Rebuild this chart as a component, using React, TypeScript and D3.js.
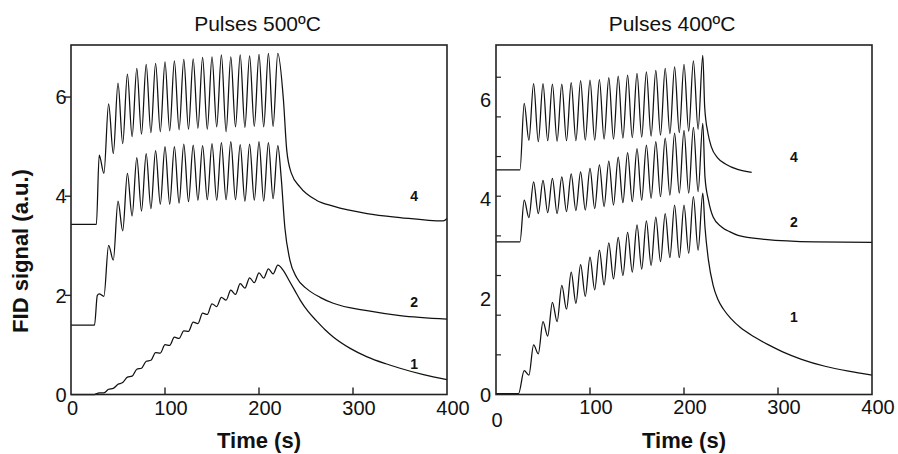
import React from "react";
import * as d3 from "d3";

// ---------- data ----------
const peakTimes = [30, 40, 50, 60, 70, 80, 90, 100, 110, 120, 130, 140, 150, 160, 170, 180, 190, 200, 210, 220];
const troughTimes = [35, 45, 55, 65, 75, 85, 95, 105, 115, 125, 135, 145, 155, 165, 175, 185, 195, 205, 215];

// Pulses 500ºC
const l4Lead = [[0, 3.43], [27, 3.43]];
const l4Peaks = [4.83, 5.86, 6.28, 6.46, 6.58, 6.66, 6.68, 6.71, 6.73, 6.76, 6.77, 6.8, 6.81, 6.85, 6.81, 6.85, 6.83, 6.86, 6.88, 6.88];
const l4Troughs = [4.46, 4.86, 5.06, 5.2, 5.25, 5.28, 5.3, 5.32, 5.34, 5.35, 5.37, 5.35, 5.4, 5.3, 5.4, 5.39, 5.41, 5.4, 5.41];
const l4Tail = [[226, 5.94], [229.5, 4.93], [234.5, 4.46], [243.5, 4.19], [261, 3.92], [279, 3.8], [315, 3.65], [350, 3.57], [396, 3.5], [400, 3.55]];

const l2Lead = [[0, 1.4], [25, 1.4], [28, 2.0]];
const l2Peaks = [2.03, 3.01, 3.9, 4.46, 4.78, 4.86, 4.92, 5.0, 5.0, 5.05, 5.03, 5.02, 5.06, 5.08, 5.1, 5.04, 5.05, 5.1, 5.08, 5.02];
const l2Troughs = [1.98, 2.71, 3.3, 3.6, 3.7, 3.75, 3.84, 3.84, 3.86, 3.89, 3.92, 3.93, 3.92, 3.93, 3.93, 3.9, 3.92, 3.9, 3.95];
const l2Tail = [[223.5, 4.4], [227.5, 3.37], [233, 2.7], [240, 2.36], [251, 2.13], [265, 1.96], [279, 1.84], [315, 1.69], [350, 1.59], [400, 1.52]];

const l1Lead = [[0, 0], [25, 0]];
const l1Peaks = [0.035, 0.105, 0.205, 0.35, 0.51, 0.67, 0.845, 1.005, 1.155, 1.285, 1.46, 1.64, 1.83, 1.96, 2.105, 2.235, 2.355, 2.455, 2.535, 2.61];
const l1Troughs = [0.035, 0.125, 0.24, 0.37, 0.53, 0.69, 0.835, 0.99, 1.13, 1.275, 1.43, 1.615, 1.775, 1.905, 2.02, 2.145, 2.255, 2.345, 2.435];
const l1Tail = [[226, 2.5], [232, 2.3], [238, 2.1], [244, 1.9], [252, 1.68], [261, 1.49], [270, 1.31], [279, 1.16], [297, 0.93], [315, 0.76], [335, 0.62], [350, 0.53], [375, 0.4], [400, 0.3]];

// Pulses 400ºC
const r4Lead = [[0, 4.53], [25.5, 4.53]];
const r4Peaks = [5.87, 6.27, 6.27, 6.26, 6.26, 6.29, 6.33, 6.34, 6.35, 6.39, 6.42, 6.44, 6.48, 6.51, 6.54, 6.58, 6.61, 6.66, 6.73, 6.84];
const r4Troughs = [5.13, 5.1, 5.12, 5.11, 5.12, 5.12, 5.13, 5.13, 5.15, 5.15, 5.17, 5.18, 5.19, 5.21, 5.23, 5.26, 5.28, 5.31, 5.35];
const r4Tail = [[222, 5.8], [225.5, 5.27], [229, 5.0], [236, 4.77], [245, 4.64], [257, 4.54], [272, 4.48]];

const r2Lead = [[0, 3.08], [25.5, 3.08]];
const r2Peaks = [3.92, 4.29, 4.32, 4.36, 4.39, 4.45, 4.49, 4.56, 4.63, 4.71, 4.79, 4.88, 4.96, 5.03, 5.1, 5.17, 5.27, 5.33, 5.39, 5.47];
const r2Troughs = [3.57, 3.65, 3.67, 3.65, 3.69, 3.71, 3.72, 3.75, 3.79, 3.82, 3.87, 3.89, 3.92, 3.96, 3.99, 4.02, 4.06, 4.06, 4.09];
const r2Tail = [[222.3, 4.39], [226, 3.92], [231, 3.58], [240, 3.38], [249, 3.28], [257.5, 3.21], [286, 3.13], [339, 3.08], [400, 3.07]];

const r1Lead = [[0, 0.02], [24, 0.02]];
const r1Peaks = [0.48, 1.0, 1.47, 1.86, 2.2, 2.47, 2.62, 2.77, 2.91, 3.06, 3.17, 3.27, 3.42, 3.5, 3.58, 3.65, 3.82, 3.82, 3.99, 4.06];
const r1Troughs = [0.39, 0.82, 1.18, 1.47, 1.72, 1.84, 1.98, 2.11, 2.21, 2.33, 2.4, 2.47, 2.53, 2.6, 2.68, 2.76, 2.76, 2.85, 2.91];
const r1Tail = [[222.3, 3.38], [226, 2.71], [231, 2.2], [236, 1.92], [242, 1.72], [250, 1.53], [260, 1.35], [275, 1.16], [290, 1.0], [305, 0.86], [325, 0.71], [350, 0.57], [375, 0.47], [400, 0.39]];

const xTicks = [0, 100, 200, 300, 400];
const yLabels = [0, 2, 4, 6];
const rightMinorTicks = [0.8, 1.6, 2.4, 3.2, 4.0, 4.8, 5.6, 6.4];
const titles = ["Pulses 500ºC", "Pulses 400ºC"];
const curveLabels = ["4", "2", "1"];

// ---------- helpers ----------
function buildSeries(lead: number[][], peaks: number[], troughs: number[], tail: number[][]) {
  const pts: number[][] = [...lead];
  peaks.forEach((p, i) => {
    pts.push([peakTimes[i], p]);
    if (i < troughs.length) pts.push([troughTimes[i], troughs[i]]);
  });
  return pts.concat(tail);
}

const leftSeries = [
  buildSeries(l4Lead, l4Peaks, l4Troughs, l4Tail),
  buildSeries(l2Lead, l2Peaks, l2Troughs, l2Tail),
  buildSeries(l1Lead, l1Peaks, l1Troughs, l1Tail),
];
const rightSeries = [
  buildSeries(r4Lead, r4Peaks, r4Troughs, r4Tail),
  buildSeries(r2Lead, r2Peaks, r2Troughs, r2Tail),
  buildSeries(r1Lead, r1Peaks, r1Troughs, r1Tail),
];

const FONT = "'Liberation Sans', Arial, Helvetica, sans-serif";
const TOP = 45;
const BOTTOM = 394.5;

const y = d3.scaleLinear().domain([0, 7.05]).range([BOTTOM, TOP]);
const xL = d3.scaleLinear().domain([0, 400]).range([71, 447]);
const xR = d3.scaleLinear().domain([0, 400]).range([496, 872]);

export default function App() {
  const lineL = d3.line<number[]>().x((d) => xL(d[0])).y((d) => y(d[1])).curve(d3.curveMonotoneX);
  const lineR = d3.line<number[]>().x((d) => xR(d[0])).y((d) => y(d[1])).curve(d3.curveMonotoneX);

  const leftLabelPos = [4.0, 1.86, 0.61];
  const rightLabelPos = [4.8, 3.48, 1.57];

  return (
    <svg
      width={898}
      height={454}
      style={{ position: "absolute", left: 0, top: 0, background: "#fff" }}
      fontFamily={FONT}
    >
      <rect x={0} y={0} width={898} height={454} fill="#fff" />

      {/* Titles */}
      <text x={257.5} y={31} fontSize={21} textAnchor="middle" fill="#111">{titles[0]}</text>
      <text x={672} y={31} fontSize={21} textAnchor="middle" fill="#111">{titles[1]}</text>

      {/* Left panel */}
      <g>
        {leftSeries.map((s, i) => (
          <path key={i} d={lineL(s) || ""} fill="none" stroke="#111" strokeWidth={1.25} />
        ))}
        <rect x={xL(0)} y={TOP} width={xL(400) - xL(0)} height={BOTTOM - TOP} fill="none" stroke="#222" strokeWidth={1.6} />
        {xTicks.slice(1, 4).map((t) => (
          <line key={t} x1={xL(t)} x2={xL(t)} y1={BOTTOM} y2={BOTTOM - 7} stroke="#222" strokeWidth={1.4} />
        ))}
        {yLabels.slice(1).map((v) => (
          <line key={v} x1={xL(0) - 6} x2={xL(0)} y1={y(v)} y2={y(v)} stroke="#222" strokeWidth={1.4} />
        ))}
        {xTicks.map((t) => (
          <text key={t} x={xL(t) + (t === 0 ? 1.5 : 6)} y={415} fontSize={20} textAnchor="middle" fill="#111">{t}</text>
        ))}
        {yLabels.map((v) => (
          <text key={v} x={66.5} y={y(v)} dy="0.36em" fontSize={20} textAnchor="end" fill="#111">{v}</text>
        ))}
        {curveLabels.map((c, i) => (
          <text key={c} x={xL(365)} y={y(leftLabelPos[i])} dy="0.36em" fontSize={14} fontWeight="bold" textAnchor="middle" fill="#111">{c}</text>
        ))}
        <text x={259} y={448} fontSize={22} fontWeight="bold" textAnchor="middle" fill="#111">Time (s)</text>
        <text transform="translate(28,251) rotate(-90)" fontSize={22} fontWeight="bold" textAnchor="middle" fill="#111">FID signal (a.u.)</text>
      </g>

      {/* Right panel */}
      <g>
        {rightSeries.map((s, i) => (
          <path key={i} d={lineR(s) || ""} fill="none" stroke="#111" strokeWidth={1.25} />
        ))}
        <rect x={xR(0)} y={TOP} width={xR(400) - xR(0)} height={BOTTOM - TOP} fill="none" stroke="#222" strokeWidth={1.6} />
        {xTicks.slice(1, 4).map((t) => (
          <line key={t} x1={xR(t)} x2={xR(t)} y1={BOTTOM} y2={BOTTOM - 7} stroke="#222" strokeWidth={1.4} />
        ))}
        {rightMinorTicks.map((v) => (
          <line key={v} x1={xR(0)} x2={xR(0) + 5} y1={y(v)} y2={y(v)} stroke="#222" strokeWidth={1.2} />
        ))}
        {xTicks.map((t) => (
          <text key={t} x={xR(t) + (t === 0 ? 1 : 6)} y={t === 0 ? 427 : 414} fontSize={20} textAnchor="middle" fill="#111">{t}</text>
        ))}
        {yLabels.map((v) => (
          <text key={v} x={491} y={y(v) + (v === 0 ? 0 : 3)} dy="0.36em" fontSize={20} textAnchor="end" fill="#111">{v}</text>
        ))}
        {curveLabels.map((c, i) => (
          <text key={c} x={xR(317)} y={y(rightLabelPos[i])} dy="0.36em" fontSize={14} fontWeight="bold" textAnchor="middle" fill="#111">{c}</text>
        ))}
        <text x={684} y={448} fontSize={22} fontWeight="bold" textAnchor="middle" fill="#111">Time (s)</text>
      </g>
    </svg>
  );
}
